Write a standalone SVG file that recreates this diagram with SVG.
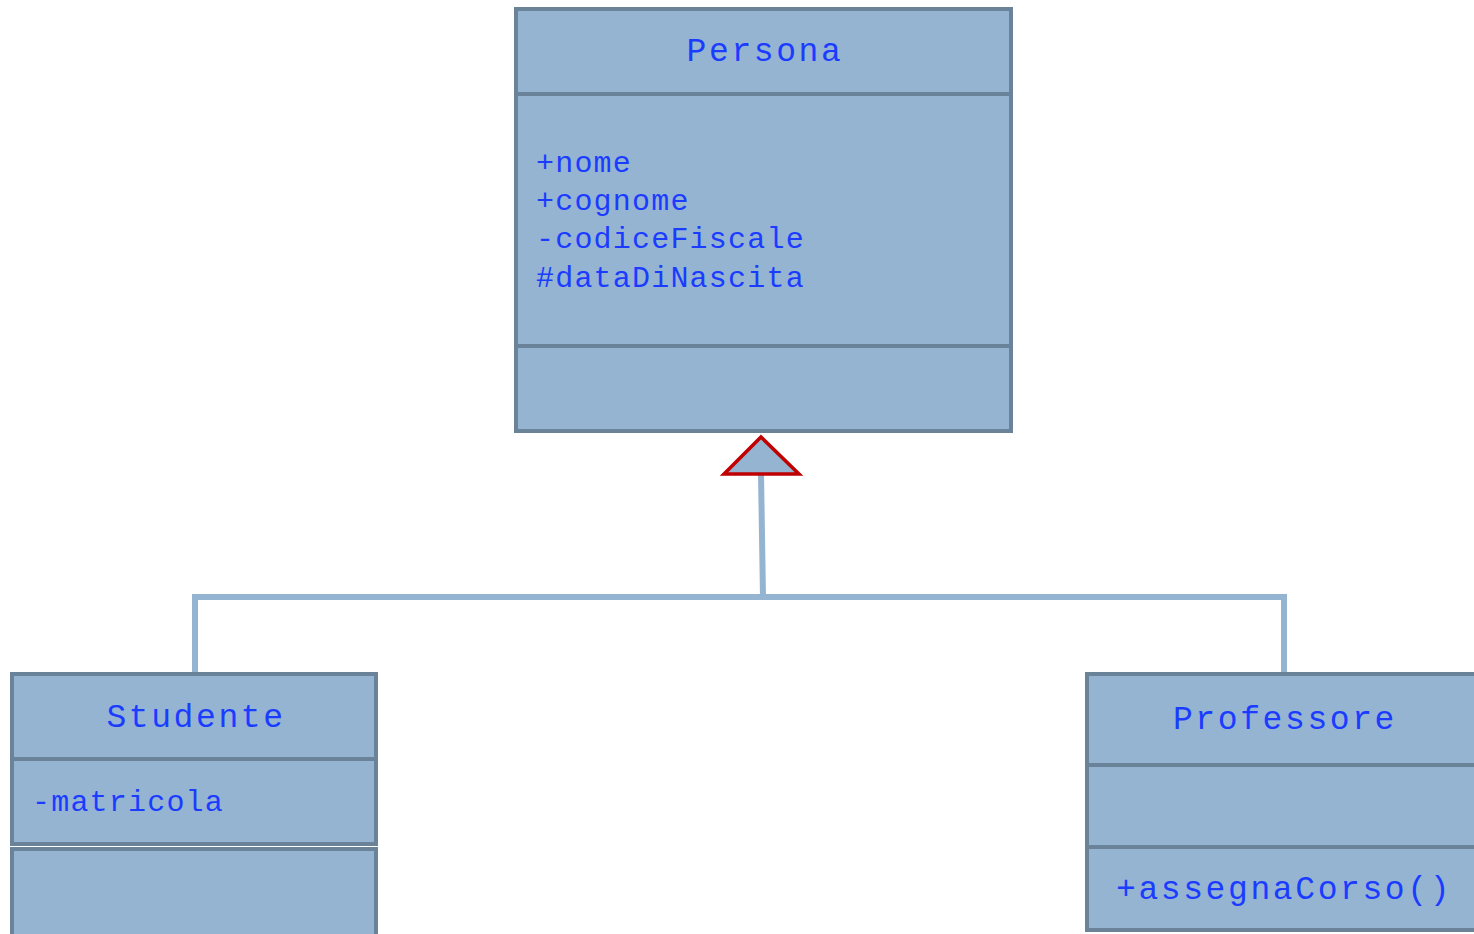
<svg xmlns="http://www.w3.org/2000/svg" width="1474" height="934" viewBox="0 0 1474 934">
  <style>
    .box { fill: #94b4d2; stroke: #6a8399; stroke-width: 4; }
    .sep { stroke: #6a8399; stroke-width: 4; fill: none; }
    .title { font-family: "Liberation Mono", "Courier New", monospace; font-size: 33px; fill: #1b3cff; text-anchor: middle; letter-spacing: 2.6px; }
    .member { font-family: "Liberation Mono", "Courier New", monospace; font-size: 30px; fill: #1b3cff; letter-spacing: 1.2px; }
    .op { font-family: "Liberation Mono", "Courier New", monospace; font-size: 33px; fill: #1b3cff; letter-spacing: 2.6px; }
    .link { stroke: #94b4d2; stroke-width: 6; fill: none; }
    .head { fill: #94b4d2; stroke: #c00000; stroke-width: 3.5; stroke-linejoin: miter; }
  </style>

  <g id="connectors">
    <polyline class="link" points="195,674 195,597 1284,597 1284,672"/>
    <line class="link" x1="763" y1="597" x2="761" y2="474"/>
    <polygon class="head" points="761,437 799,474 724,474"/>
  </g>

  <g id="persona">
    <rect class="box" x="516" y="9" width="495" height="422"/>
    <line class="sep" x1="516" y1="94" x2="1011" y2="94"/>
    <line class="sep" x1="516" y1="346" x2="1011" y2="346"/>
    <text class="title" x="765" y="61">Persona</text>
    <text class="member" x="536" y="172">+nome</text>
    <text class="member" x="536" y="210">+cognome</text>
    <text class="member" x="536" y="248">-codiceFiscale</text>
    <text class="member" x="536" y="287">#dataDiNascita</text>
  </g>

  <g id="studente">
    <rect class="box" x="12" y="674" width="364" height="170"/>
    <line class="sep" x1="12" y1="759" x2="376" y2="759"/>
    <rect class="box" x="12" y="849" width="364" height="100"/>
    <text class="title" x="196" y="727">Studente</text>
    <text class="member" x="32" y="811">-matricola</text>
  </g>

  <g id="professore">
    <rect class="box" x="1087" y="674" width="400" height="256"/>
    <line class="sep" x1="1087" y1="765" x2="1487" y2="765"/>
    <line class="sep" x1="1087" y1="847" x2="1487" y2="847"/>
    <text class="title" x="1285" y="729">Professore</text>
    <text class="op" x="1116" y="899">+assegnaCorso()</text>
  </g>
</svg>
